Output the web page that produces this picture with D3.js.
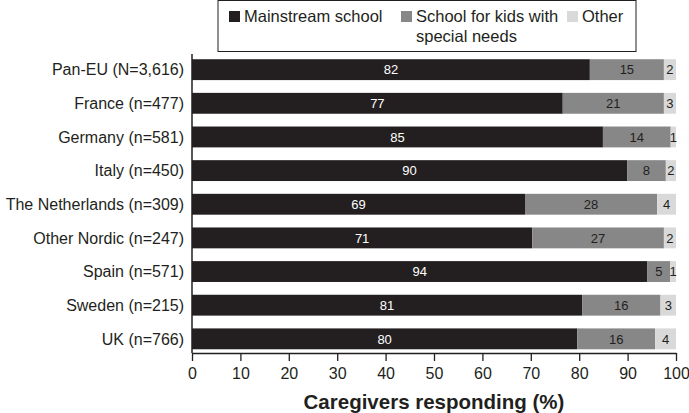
<!DOCTYPE html>
<html><head><meta charset="utf-8">
<script src="https://cdn.jsdelivr.net/npm/d3@7"></script>
<style>body{margin:0;background:#fff}svg{display:block;font-family:"Liberation Sans",Arial,sans-serif}</style>
</head><body><svg id="c" width="689" height="413"></svg>
<script>
const categories = ["Pan-EU (N=3,616)","France (n=477)","Germany (n=581)","Italy (n=450)","The Netherlands (n=309)","Other Nordic (n=247)","Spain (n=571)","Sweden (n=215)","UK (n=766)"];
const seriesNames = ["Mainstream school","School for kids with special needs","Other"];
const mainstream = [82.2,76.6,84.9,89.9,68.8,70.3,94.1,80.6,79.6];
const special    = [15.3,20.9,14.0,8.0,27.3,27.2,4.7,16.2,16.1];
const other      = [2.5,2.5,1.1,2.1,3.9,2.5,1.2,3.2,4.3];
const mainstreamLabels = [82,77,85,90,69,71,94,81,80];
const specialLabels    = [15,21,14,8,28,27,5,16,16];
const otherLabels      = [2,3,1,2,4,2,1,3,4];
const xTicks = [0,10,20,30,40,50,60,70,80,90,100];
const colors = ["#231f20","#878787","#d9d9d9"];
const labelColors = ["#ffffff","#231f20","#231f20"];

const svg = d3.select("#c");
const x = d3.scaleLinear().domain([0,100]).range([192,676]);
const y = d3.scaleBand().domain(categories).range([52.5,356]).paddingInner(0.38).paddingOuter(0.2);

const rows = categories.map((c,i)=>({cat:c, vals:[mainstream[i],special[i],other[i]], labs:[mainstreamLabels[i],specialLabels[i],otherLabels[i]]}));
rows.forEach(r=>{
  let acc=0;
  r.vals.forEach((v,k)=>{
    const x0=acc; acc+=v;
    svg.append("rect").attr("x",x(x0)).attr("y",y(r.cat)).attr("width",x(acc)-x(x0)).attr("height",y.bandwidth()).attr("fill",colors[k]);
    svg.append("text").attr("x",(x(x0)+x(acc))/2).attr("y",y(r.cat)+y.bandwidth()/2).attr("dy","0.36em")
      .attr("text-anchor","middle").attr("font-size",13).attr("fill",labelColors[k]).text(r.labs[k]);
  });
});

// category labels
svg.selectAll("text.cat").data(categories).join("text").attr("class","cat")
  .attr("x",184).attr("y",d=>y(d)+y.bandwidth()/2).attr("dy","0.36em").attr("text-anchor","end")
  .attr("font-size",16).attr("fill","#231f20").text(d=>d);
// y axis line
svg.append("line").attr("x1",192).attr("x2",192).attr("y1",54).attr("y2",353).attr("stroke","#231f20").attr("stroke-width",1.5);

// x axis
const xa = svg.append("g").attr("transform","translate(0,353)")
  .call(d3.axisBottom(x).tickValues(xTicks).tickSize(8).tickSizeOuter(0).tickPadding(7));
xa.select(".domain").attr("stroke","#231f20").attr("stroke-width",1.5);
xa.selectAll(".tick line").attr("stroke","#231f20").attr("stroke-width",1.3);
xa.selectAll(".tick text").attr("font-size",16).attr("fill","#231f20").attr("font-family","Liberation Sans, Arial, sans-serif");

svg.append("text").attr("x",434).attr("y",408.5).attr("text-anchor","middle").attr("font-size",20.5).attr("font-weight","bold").attr("fill","#231f20").text("Caregivers responding (%)");

// legend
const lg = svg.append("g");
lg.append("rect").attr("x",218).attr("y",0.5).attr("width",418).attr("height",51).attr("fill","#fff").attr("stroke","#231f20").attr("stroke-width",1);
const legendItems = [
  {x:229, lines:["Mainstream school"]},
  {x:401, lines:["School for kids with","special needs"]},
  {x:567, lines:["Other"]}
];
legendItems.forEach((it,k)=>{
  lg.append("rect").attr("x",it.x).attr("y",11).attr("width",11).attr("height",11).attr("fill",colors[k]);
  it.lines.forEach((ln,j)=>{
    lg.append("text").attr("x",it.x+15).attr("y",22+j*20).attr("font-size",16.5).attr("fill","#231f20").text(ln);
  });
});
</script></body></html>
